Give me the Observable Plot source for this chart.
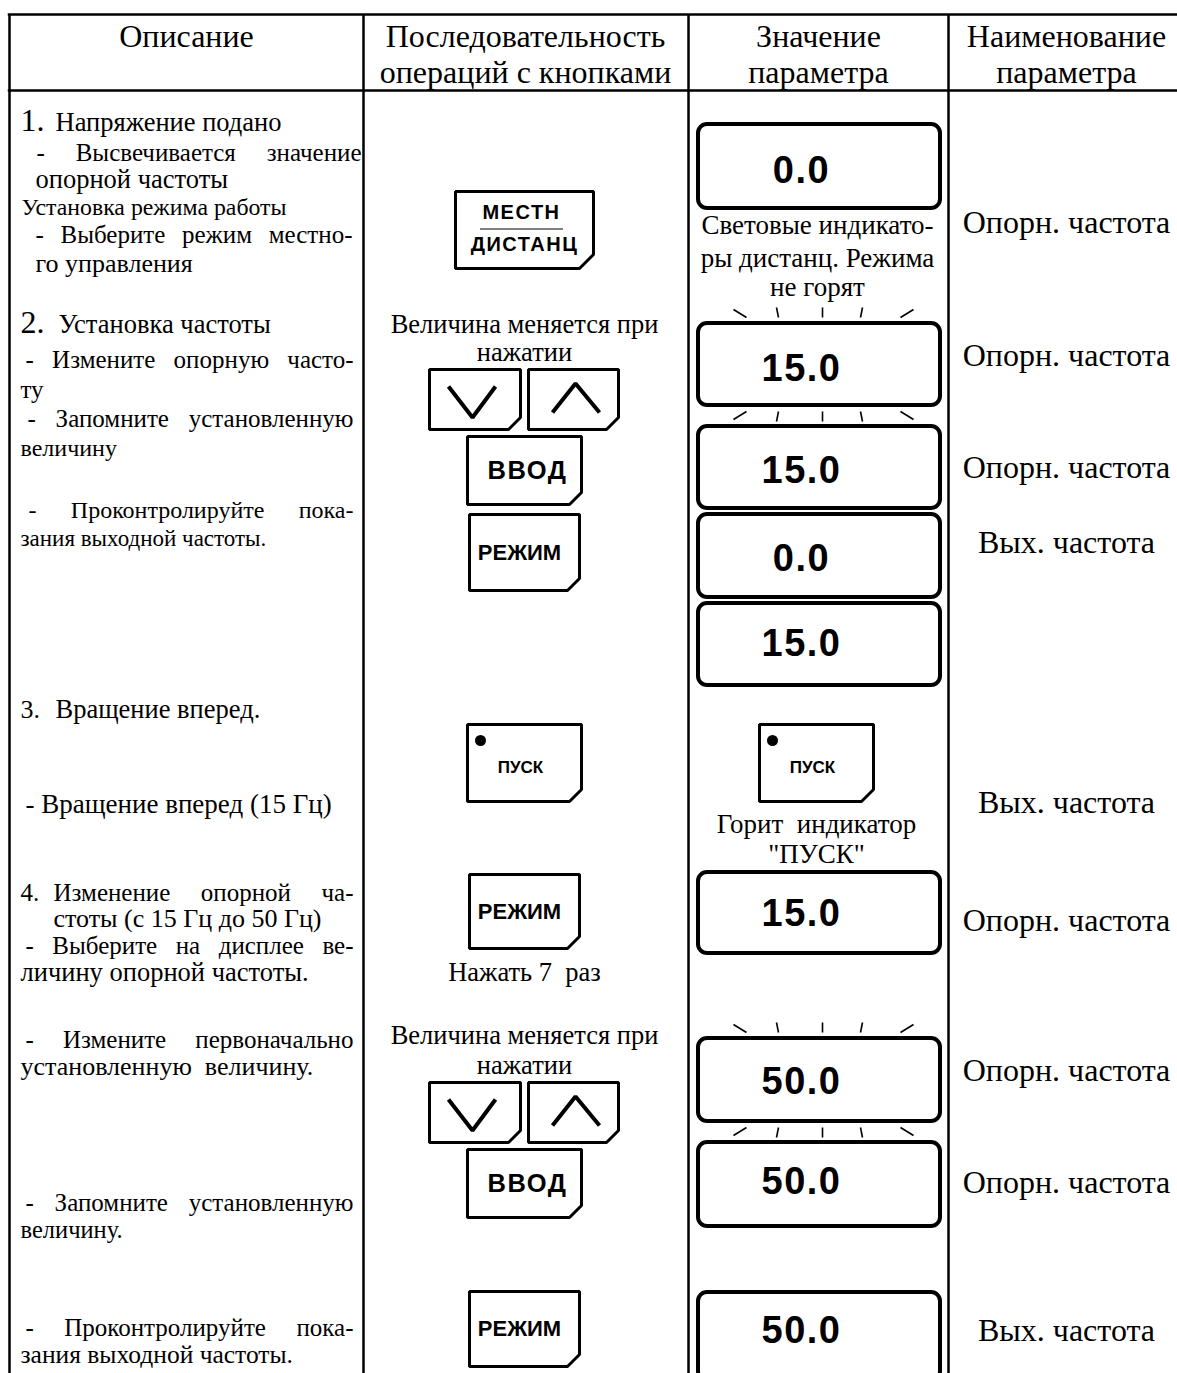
<!DOCTYPE html>
<html>
<head>
<meta charset="utf-8">
<script src="https://cdn.jsdelivr.net/npm/d3@7"></script>
<script src="https://cdn.jsdelivr.net/npm/@observablehq/plot@0.6"></script>
<style>
  html, body { margin: 0; padding: 0; background: #fff; overflow: hidden; }
  #chart svg { display: block; }
</style>
</head>
<body>
<div id="chart"></div>
<script>
// ================= DATA (text content only) =================
const columnHeaders = [
  ["Описание"],
  ["Последовательность", "операций с кнопками"],
  ["Значение", "параметра"],
  ["Наименование", "параметра"]
];
const stepNumbers = ["1.", "2.", "3.", "4."];
const descriptionLines = [
  "Напряжение подано",
  "- Высвечивается значение",
  "опорной частоты",
  "Установка режима работы",
  "- Выберите режим местно-",
  "го управления",
  "Установка частоты",
  "- Измените опорную часто-",
  "ту",
  "- Запомните установленную",
  "величину",
  "- Проконтролируйте пока-",
  "зания выходной частоты.",
  "Вращение вперед.",
  "- Вращение вперед (15 Гц)",
  "Изменение опорной ча-",
  "стоты (с 15 Гц до 50 Гц)",
  "- Выберите на дисплее ве-",
  "личину опорной частоты.",
  "- Измените первоначально",
  "установленную  величину.",
  "- Запомните установленную",
  "величину.",
  "- Проконтролируйте пока-",
  "зания выходной частоты."
];
const buttonKeys = ["МЕСТН/ДИСТАНЦ", "down", "up", "ВВОД", "РЕЖИМ", "ПУСК", "РЕЖИМ", "down", "up", "ВВОД", "РЕЖИМ"];
const buttonNotes = ["Величина меняется при", "нажатии", "Нажать 7  раз", "Величина меняется при", "нажатии"];
const displayValues = ["0.0", "15.0", "15.0", "0.0", "15.0", "15.0", "50.0", "50.0", "50.0"];
const displayBlinking = [false, true, false, false, false, false, true, false, false];
const indicatorKeys = ["ПУСК"];
const displayNotes = ["Световые индикато-", "ры дистанц. Режима", "не горят", "Горит  индикатор", "\"ПУСК\""];
const parameterNames = ["Опорн. частота", "Опорн. частота", "Опорн. частота", "Вых. частота", "Вых. частота",
                        "Опорн. частота", "Опорн. частота", "Опорн. частота", "Вых. частота"];

// ================= LAYOUT (page geometry) =================
const W = 1177, H = 1373;
const SERIF = "'Liberation Serif', 'Times New Roman', serif";
const SANS = "'Liberation Sans', Arial, sans-serif";
const table = {left: 9, top: 14, headBottom: 90, cols: [9, 363, 688, 948]};
const colCenter = [186, 525, 818, 1066];
const headerBaselines = [46, 82];
const stepNumberPos = [[20, 130, 32], [20, 332, 32], [20, 717, 26], [20, 900, 25]];
// [x, baseline, justify-right-edge or null, font size]
const descPos = [
  [55,130,null,26.5],[36,160,361,25],[35,187,null,26.5],[21,214,null,23.8],[35,242,352,25],[35,271,null,26],
  [58,332,null,26.5],[25,367,353,25],[20,397,null,25],[27,426,353,25],[20,455,null,24],[28,517,353,24],[20,545,null,23],
  [55,717,null,26.5],[25,812,null,27],
  [53,900,353,25],[53,926,null,26],[25,953,353,25],[20,980,null,26.5],
  [25,1047,353,25],[20,1074,null,26],[25,1210,353,25],[20,1237,null,24.5],[25,1335,353,25],[20,1362,null,25.5]
];
// [x1, y1, x2, y2, cut]
const buttonBoxes = [
  [455,191,593,268,14],[429,369,520,429,12],[528,369,618,429,12],[467,436,581,504,12],[469,514,579,590,12],
  [467,724,581,801,12],[469,874,579,948,12],[429,1082,520,1142,12],[528,1082,618,1142,12],[467,1149,581,1217,12],[469,1291,579,1366,12]
];
const indicatorBoxes = [[759,724,873,801,12]];
const buttonNotePos = [[524,332],[524,360],[524,980],[524,1043],[524,1073]];
const display = {x1: 698, x2: 940, textX: 801, rx: 9};
const displayPos = [[124,208,182],[323,405,380],[426,508,482],[514,597,570],[603,685,655],[872,953,925],[1038,1121,1093],[1142,1226,1193],[1292,1380,1342]];
const displayNotePos = [[817,233],[817,266],[817,295],[816,832],[816,862]];
const paramPos = [232,365,477,552,812,930,1080,1192,1340];
const rayOff = [-73,-41,3,41,81], raySlant = [-13,-2,0,2,13], rayLen = [8,10,10,10,8];

// ================= BUILD MARK DATA =================
const headerText = columnHeaders.flatMap((lines, c) => lines.map((t, k) => ({x: colCenter[c], y: headerBaselines[k], text: t})));
const stepText = stepNumbers.map((t, i) => ({x: stepNumberPos[i][0], y: stepNumberPos[i][1], size: stepNumberPos[i][2], text: t}));
const descAll = descriptionLines.map((t, i) => ({x: descPos[i][0], y: descPos[i][1], right: descPos[i][2], size: descPos[i][3], text: t}));
const descPlain = descAll.filter(d => d.right == null);
const descJust = descAll.filter(d => d.right != null);

const allBoxes = buttonBoxes.map((b, i) => ({b, key: buttonKeys[i], id: "b" + i}))
  .concat(indicatorBoxes.map((b, i) => ({b, key: indicatorKeys[i], id: "i" + i})));
const buttonOutline = allBoxes.flatMap(({b: [x1, y1, x2, y2, c], id}) => [
  {id, x: x1, y: y1}, {id, x: x2, y: y1}, {id, x: x2, y: y2 - c}, {id, x: x2 - c, y: y2}, {id, x: x1, y: y2}
]);
const chevrons = allBoxes.filter(d => d.key === "down" || d.key === "up").flatMap(({b: [x1, y1], key, id}) =>
  key === "down"
    ? [{id, x: x1 + 19, y: y1 + 17}, {id, x: x1 + 43, y: y1 + 48}, {id, x: x1 + 66, y: y1 + 17}]
    : [{id, x: x1 + 24, y: y1 + 43}, {id, x: x1 + 47, y: y1 + 14}, {id, x: x1 + 71, y: y1 + 43}]);
const centerOf = (b) => ({cx: (b[0] + b[2]) / 2, cy: (b[1] + b[3]) / 2});
const dualLabels = allBoxes.filter(d => d.key.includes("/")).flatMap(({b, key}) => {
  const {cx, cy} = centerOf(b); const [a, z] = key.split("/");
  return [{x: cx - 3, y: cy - 11, text: a}, {x: cx, y: cy + 21, text: z}];
});
const separators = allBoxes.filter(d => d.key.includes("/")).map(({b}) => {
  const {cx, cy} = centerOf(b); return {x1: cx - 44, x2: cx + 39, y: cy - 1};
});
const bigLabels = allBoxes.filter(d => d.key === "ВВОД").map(({b, key}) => { const {cx, cy} = centerOf(b); return {x: cx + 3, y: cy + 8, text: key}; });
const modeLabels = allBoxes.filter(d => d.key === "РЕЖИМ").map(({b, key}) => { const {cx, cy} = centerOf(b); return {x: cx - 5, y: cy + 7, text: key}; });
const runLabels = allBoxes.filter(d => d.key === "ПУСК").map(({b, key}) => { const {cx, cy} = centerOf(b); return {x: cx - 4, y: cy + 10, text: key}; });
const runDots = allBoxes.filter(d => d.key === "ПУСК").map(({b}) => ({x: b[0] + 13, y: b[1] + 16}));

const displays = displayValues.map((v, i) => ({x1: display.x1, x2: display.x2, y1: displayPos[i][0], y2: displayPos[i][1], ty: displayPos[i][2], text: v, blink: displayBlinking[i]}));
const cxD = (display.x1 + display.x2) / 2;
const rays = displays.filter(d => d.blink).flatMap(d => rayOff.flatMap((o, k) => [
  {x1: cxD + o, y1: d.y1 - 6, x2: cxD + o + raySlant[k], y2: d.y1 - 6 - rayLen[k]},
  {x1: cxD + o, y1: d.y2 + 6, x2: cxD + o + raySlant[k], y2: d.y2 + 6 + rayLen[k]}
]));
const btnNotes = buttonNotes.map((t, i) => ({x: buttonNotePos[i][0], y: buttonNotePos[i][1], text: t}));
const dispNotes = displayNotes.map((t, i) => ({x: displayNotePos[i][0], y: displayNotePos[i][1], text: t}));
const params = parameterNames.map((t, i) => ({x: colCenter[3], y: paramPos[i], text: t}));

const txt = (data, o) => Plot.text(data, {x: "x", y: "y", text: "text", lineAnchor: "bottom", fill: "black", ...o});

const chart = Plot.plot({
  width: W, height: H, margin: 0,
  x: {domain: [0, W], range: [0, W], axis: null},
  y: {domain: [0, H], range: [0, H], axis: null},
  style: {background: "white"},
  marks: [
    // table grid
    Plot.ruleY([table.top, table.headBottom], {y: d => d, x1: table.left - 1.25, x2: W, stroke: "black", strokeWidth: 2.5}),
    Plot.ruleX(table.cols, {x: d => d, y1: table.top, y2: H, stroke: "black", strokeWidth: 2.5}),
    // headers
    txt(headerText, {textAnchor: "middle", fontFamily: SERIF, fontSize: 32}),
    // description column
    txt(stepText, {fontSize: d => d.size, textAnchor: "start", fontFamily: SERIF}),
    txt(descPlain, {fontSize: d => d.size, textAnchor: "start", fontFamily: SERIF}),
    txt(descJust, {fontSize: d => d.size, textAnchor: "start", fontFamily: SERIF, ariaDescription: "description-justified"}),
    // buttons
    Plot.line(buttonOutline, {x: "x", y: "y", z: "id", curve: "linear-closed", stroke: "black", strokeWidth: 3, strokeLinejoin: "miter"}),
    Plot.line(chevrons, {x: "x", y: "y", z: "id", stroke: "black", strokeWidth: 4, strokeLinejoin: "miter", strokeLinecap: "butt"}),
    Plot.ruleY(separators, {x1: "x1", x2: "x2", y: "y", stroke: "black", strokeWidth: 1.2}),
    txt(dualLabels, {textAnchor: "middle", fontFamily: SANS, fontWeight: "bold", fontSize: 20, ariaDescription: "dual-labels"}),
    txt(bigLabels, {textAnchor: "middle", fontFamily: SANS, fontWeight: "bold", fontSize: 25.5, ariaDescription: "enter-labels"}),
    txt(modeLabels, {textAnchor: "middle", fontFamily: SANS, fontWeight: "bold", fontSize: 22}),
    txt(runLabels, {textAnchor: "middle", fontFamily: SANS, fontWeight: "bold", fontSize: 17}),
    Plot.dot(runDots, {x: "x", y: "y", r: 5.5, fill: "black", stroke: "none"}),
    txt(btnNotes, {textAnchor: "middle", fontFamily: SERIF, fontSize: 26.5}),
    // displays
    Plot.rect(displays, {x1: "x1", x2: "x2", y1: "y1", y2: "y2", rx: display.rx, ry: display.rx, fill: "none", stroke: "black", strokeWidth: 4}),
    txt(displays.map(d => ({x: display.textX, y: d.ty, text: d.text})), {textAnchor: "middle", fontFamily: SANS, fontWeight: "bold", fontSize: 38, ariaDescription: "display-values"}),
    Plot.link(rays, {x1: "x1", y1: "y1", x2: "x2", y2: "y2", stroke: "black", strokeWidth: 1.6}),
    txt(dispNotes, {textAnchor: "middle", fontFamily: SERIF, fontSize: 27}),
    // parameter names
    txt(params, {textAnchor: "middle", fontFamily: SERIF, fontSize: 32})
  ]
});

document.getElementById("chart").append(chart);

// justify description lines via word spacing; letter spacing on bold labels
const svgSel = d3.select(chart);
svgSel.selectAll('g[aria-description="description-justified"] text').each(function (_, i) {
  const d = descJust[i];
  const natural = this.getComputedTextLength();
  const spaces = (d.text.match(/ /g) || []).length;
  if (spaces > 0) this.style.wordSpacing = Math.max(0, ((d.right - d.x) - natural) / spaces) + "px";
});
svgSel.selectAll('g[aria-description="dual-labels"]').style("letter-spacing", "1.5px");
svgSel.selectAll('g[aria-description="enter-labels"]').style("letter-spacing", "1.5px");
svgSel.selectAll('g[aria-description="display-values"]').style("letter-spacing", "1.5px");
</script>
</body>
</html>
